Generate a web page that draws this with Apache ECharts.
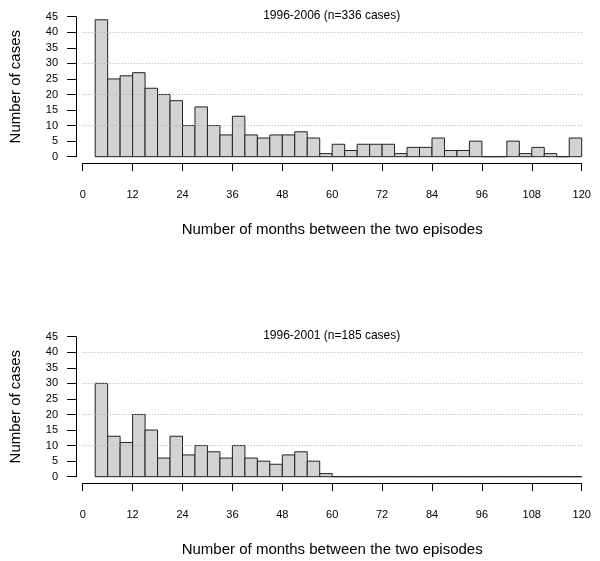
<!DOCTYPE html>
<html><head><meta charset="utf-8">
<script src="https://cdn.jsdelivr.net/npm/echarts@6/dist/echarts.min.js"></script>
<style>html,body{margin:0;padding:0;background:#fff}#c{width:600px;height:561px}</style>
</head><body><div id="c"></div>
<script>
// bins of 3 months: 3-6, 6-9, ..., 117-120
var binStarts = [3,6,9,12,15,18,21,24,27,30,33,36,39,42,45,48,51,54,57,60,63,66,69,72,75,78,81,84,87,90,93,96,99,102,105,108,111,114,117];
var binWidth = 3;
var counts2006 = [44,25,26,27,22,20,18,10,16,10,7,13,7,6,7,7,8,6,1,4,2,4,4,4,1,3,3,6,2,2,5,0,0,5,1,3,1,0,6];
var counts2001 = [30,13,11,20,15,6,13,7,10,8,6,10,6,5,4,7,8,5,1,0,0,0,0,0,0,0,0,0,0,0,0,0,0,0,0,0,0,0,0];
var titles = ['1996-2006 (n=336 cases)', '1996-2001 (n=185 cases)'];
var xTicks = [0,12,24,36,48,60,72,84,96,108,120];
var yTicks = [0,5,10,15,20,25,30,35,40,45];
var gridValues = [10,20,30,40];
var yLabel = 'Number of cases';
var xLabel = 'Number of months between the two episodes';

var FONT = '"Liberation Sans", Arial, sans-serif';
var chart = echarts.init(document.getElementById('c'), null, {renderer: 'canvas'});
var panelTops = [16.7, 336.7];
var grids = [], xAxes = [], yAxes = [], series = [];
[counts2006, counts2001].forEach(function (counts, i) {
  grids.push({left: 81.7, width: 500, top: panelTops[i], height: 140});
  xAxes.push({
    type: 'value', gridIndex: i, min: xTicks[0], max: xTicks[xTicks.length-1], interval: xTicks[1] - xTicks[0],
    position: 'bottom', offset: 6.5,
    axisLine: {show: true, onZero: false, lineStyle: {color: '#000', width: 1}},
    axisTick: {show: true, length: 8, lineStyle: {color: '#000'}},
    axisLabel: {show: true, margin: 26, fontFamily: FONT, fontSize: 11, color: '#000'},
    splitLine: {show: false},
    name: xLabel, nameLocation: 'middle', nameGap: 59,
    nameTextStyle: {fontFamily: FONT, fontSize: 15, color: '#000'}
  });
  yAxes.push({
    type: 'value', gridIndex: i, min: yTicks[0], max: yTicks[yTicks.length-1], interval: yTicks[1] - yTicks[0],
    position: 'left', offset: 6.7,
    axisLine: {show: true, onZero: false, lineStyle: {color: '#000', width: 1}},
    axisTick: {show: true, length: 9, lineStyle: {color: '#000'}},
    axisLabel: {show: true, margin: 18, fontFamily: FONT, fontSize: 11, color: '#000'},
    splitLine: {show: false},
    name: yLabel, nameLocation: 'middle', nameGap: 53, nameRotate: 90,
    nameTextStyle: {fontFamily: FONT, fontSize: 15, color: '#000'}
  });
  series.push({
    type: 'line', xAxisIndex: i, yAxisIndex: i, data: [], silent: true,
    markLine: {
      symbol: 'none', silent: true, label: {show: false},
      lineStyle: {type: [1, 2], color: '#aaa', width: 1},
      data: gridValues.map(function (v) { return {yAxis: v}; })
    }
  });
  var data = counts.map(function (c, k) { return [binStarts[k], binStarts[k] + binWidth, c]; });
  series.push({
    type: 'custom', xAxisIndex: i, yAxisIndex: i, data: data, silent: true,
    renderItem: function (params, api) {
      var p0 = api.coord([api.value(0), api.value(2)]);
      var p1 = api.coord([api.value(1), 0]);
      return {
        type: 'rect',
        shape: {x: p0[0], y: p0[1], width: p1[0] - p0[0], height: p1[1] - p0[1]},
        style: {fill: '#d3d3d3', stroke: '#222', lineWidth: 1}
      };
    },
    encode: {x: [0, 1], y: 2}
  });
});
chart.setOption({
  animation: false,
  grid: grids, xAxis: xAxes, yAxis: yAxes, series: series,
  graphic: [
    {type: 'text', x: 331.7, y: 15.5, style: {text: titles[0], font: '12px ' + FONT, fill: '#000', align: 'center', verticalAlign: 'middle'}},
    {type: 'text', x: 331.7, y: 335.5, style: {text: titles[1], font: '12px ' + FONT, fill: '#000', align: 'center', verticalAlign: 'middle'}}
  ]
});
</script></body></html>
